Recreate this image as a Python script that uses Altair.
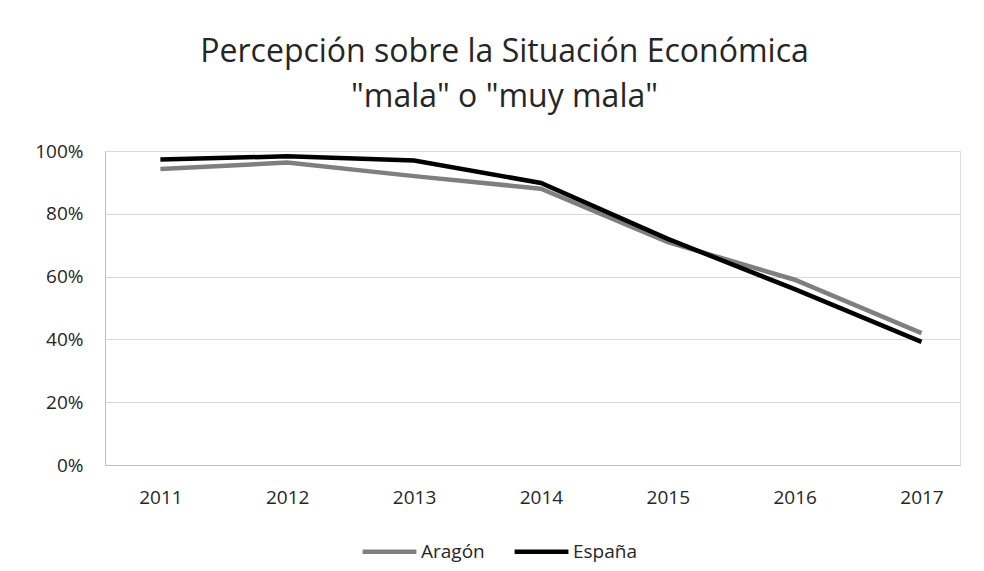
import altair as alt
import pandas as pd

years = ["2011", "2012", "2013", "2014", "2015", "2016", "2017"]
aragon = [94.3, 96.3, 92.0, 88.0, 71.0, 59.0, 42.0]
espana = [97.3, 98.3, 97.0, 89.8, 72.0, 56.0, 39.2]
series = ["Aragón", "España"]

rows = []
for name, vals in zip(series, [aragon, espana]):
    for y, v in zip(years, vals):
        rows.append({"year": y, "value": v / 100.0, "serie": name})
df = pd.DataFrame(rows)

font = "Open Sans"
txt = "#262626"

chart = alt.Chart(df).mark_line(strokeWidth=4.5, strokeCap="butt", strokeJoin="miter").encode(
    x=alt.X("year:O", sort=years,
            scale=alt.Scale(type="point", padding=0.37, align=0.59),
            axis=alt.Axis(title=None, labelAngle=0, ticks=False, grid=False,
                          labelPadding=23, labelFontSize=19, labelColor=txt,
                          domainColor="#bfbfbf", labelFont=font)),
    y=alt.Y("value:Q", scale=alt.Scale(domain=[0, 1]),
            axis=alt.Axis(title=None, format="%", values=[0, 0.2, 0.4, 0.6, 0.8, 1.0],
                          ticks=False, labelPadding=22, labelFontSize=19,
                          labelColor=txt, gridColor="#d9d9d9",
                          domainColor="#bfbfbf", labelFont=font)),
    color=alt.Color("serie:N", sort=series,
                    scale=alt.Scale(domain=series, range=["#7f7f7f", "#000000"]),
                    legend=alt.Legend(title=None, orient="none", direction="horizontal",
                                      legendX=255, legendY=371,
                                      symbolType="stroke", symbolSize=2900,
                                      symbolStrokeWidth=4.5, labelFontSize=19,
                                      labelFont=font, labelColor=txt,
                                      columnPadding=20, labelOffset=2)),
).properties(
    width=855,
    height=314,
    title=alt.TitleParams(
        text=["Percepción sobre la Situación Económica", "\"mala\" o \"muy mala\""],
        fontSize=32, font=font, fontWeight="normal", color=txt,
        anchor="middle", dx=-28, offset=28, lineHeight=45,
    ),
).configure_view(stroke=None).configure(padding={"left": 26, "top": 28, "right": 14, "bottom": 8})

chart.save("out.html", embed_options={"renderer": "svg", "actions": False})
